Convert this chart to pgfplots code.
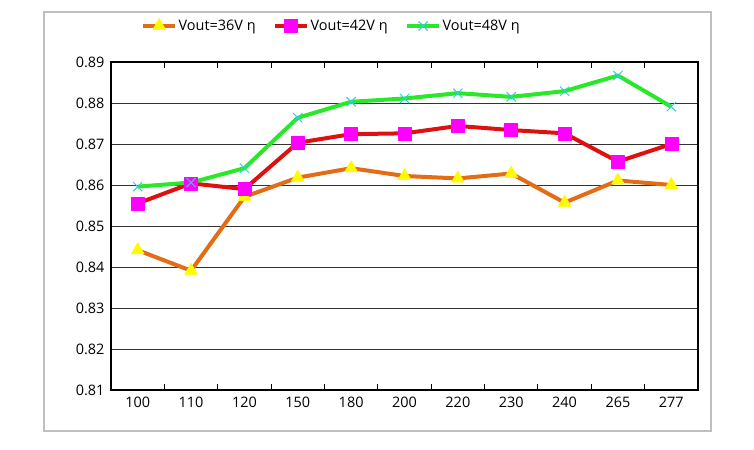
\documentclass[border=0pt]{standalone}
\usepackage{pgfplots}
\pgfplotsset{compat=1.18}
\usepackage{fontspec}
\setmainfont{Open Sans}
\definecolor{lorange}{RGB}{228,108,20}
\definecolor{lred}{RGB}{222,16,16}
\definecolor{lgreen}{RGB}{40,232,40}
\definecolor{mcyan}{RGB}{40,210,210}
\definecolor{myellow}{RGB}{255,250,0}
\definecolor{mmagenta}{RGB}{255,0,255}
\begin{document}
\begin{tikzpicture}
\path (0bp,0bp) rectangle (754bp,450bp);
\draw[black!25, line width=1.2bp] (44bp,19bp) rectangle (711bp,438bp);
\begin{axis}[
  at={(111bp,60bp)}, anchor=south west,
  width=587bp, height=328bp, scale only axis,
  xmin=-0.5, xmax=10.5, ymin=0.81, ymax=0.89,
  xtick={-0.5,0.5,...,10.5},
  xticklabels={100,110,120,150,180,200,220,230,240,265,277},
  x tick label as interval,
  xtick style={black, line width=0.9bp},
  ytick={0.81,0.82,...,0.89},
  ytick style={draw=none},
  yticklabel style={/pgf/number format/fixed, /pgf/number format/fixed zerofill, /pgf/number format/precision=2, xshift=-3bp},
  /pgf/number format/assume math mode=true,
  ymajorgrids, major grid style={black!80, line width=0.8bp},
  major tick length=6bp,
  tick align=inside,
  axis line style={black, line width=1.2bp},
  tick label style={font=\fontsize{14.5}{16}\selectfont},
  xticklabel style={yshift=-4bp},
  every axis plot/.append style={line width=4bp, line join=round},
  legend columns=3,
  legend style={draw=none, fill=none, at={(0.051,1.11)}, anchor=west,
    font=\fontsize{14.5}{16}\selectfont, inner sep=0pt,
    nodes={inner sep=1.5bp},
    /tikz/every even column/.append style={column sep=16bp}},
  legend image code/.code={
    \draw[#1, mark repeat=2, mark phase=2] plot coordinates {(0bp,0bp)(16bp,0bp)(32bp,0bp)};
  },
]
\addplot[lorange, mark=triangle*, mark size=7.5bp,
  mark options={fill=myellow, draw=myellow, line width=0.5bp}]
  coordinates {(0,0.8441)(1,0.8391)(2,0.8571)(3,0.8618)(4,0.8641)(5,0.8622)(6,0.8616)(7,0.8628)(8,0.8557)(9,0.8611)(10,0.8600)};
\addlegendentry{Vout=36V η}
\addplot[lred, mark=square*, mark size=6.5bp,
  mark options={fill=mmagenta, draw=mmagenta, line width=0.5bp}]
  coordinates {(0,0.8555)(1,0.8604)(2,0.8590)(3,0.8703)(4,0.8724)(5,0.8726)(6,0.8744)(7,0.8734)(8,0.8726)(9,0.8657)(10,0.8700)};
\addlegendentry{Vout=42V η}
\addplot[lgreen, mark=x, mark size=6.5bp,
  mark options={draw=mcyan, line width=1bp}]
  coordinates {(0,0.8596)(1,0.8606)(2,0.8641)(3,0.8764)(4,0.8803)(5,0.8811)(6,0.8824)(7,0.8815)(8,0.8829)(9,0.8867)(10,0.8791)};
\addlegendentry{Vout=48V η}
\end{axis}
\end{tikzpicture}
\end{document}
